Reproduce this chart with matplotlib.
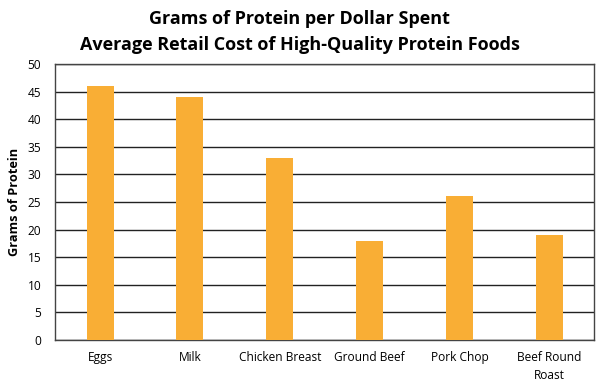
import matplotlib
matplotlib.use("Agg")
import matplotlib.pyplot as plt

foods = ["Eggs", "Milk", "Chicken Breast", "Ground Beef", "Pork Chop", "Beef Round\nRoast"]
grams_per_dollar = [46, 44, 33, 18, 26, 19]
y_ticks = list(range(0, 51, 5))

plt.rcParams['font.family'] = ['Open Sans', 'DejaVu Sans']

fig = plt.figure(figsize=(5.99, 3.85), dpi=100)
ax = fig.add_axes([0.092, 0.117, 0.900, 0.717])

x = range(len(foods))
ax.bar(x, grams_per_dollar, width=0.3, color='#F9AE35', zorder=3)

ax.set_xlim(-0.5, len(foods) - 0.5)
ax.set_ylim(0, 50)
ax.set_yticks(y_ticks)
ax.set_xticks(list(x))
ax.set_xticklabels(foods, fontsize=8.6, linespacing=1.45)
ax.tick_params(axis='y', labelsize=8.6, length=0, pad=10)
ax.tick_params(axis='x', length=0, pad=8)
ax.yaxis.grid(True, color='#222222', lw=1, zorder=0)

for s in ax.spines.values():
    s.set_color('#444444')
    s.set_linewidth(1)

ax.set_ylabel('Grams of Protein', fontsize=9.2, fontweight='bold', labelpad=5)

fig.text(0.5, 0.950, 'Grams of Protein per Dollar Spent', ha='center', va='center',
         fontsize=13, fontweight='bold')
fig.text(0.5, 0.882, 'Average Retail Cost of High-Quality Protein Foods', ha='center', va='center',
         fontsize=13, fontweight='bold')

fig.savefig('out.png', dpi=100)
